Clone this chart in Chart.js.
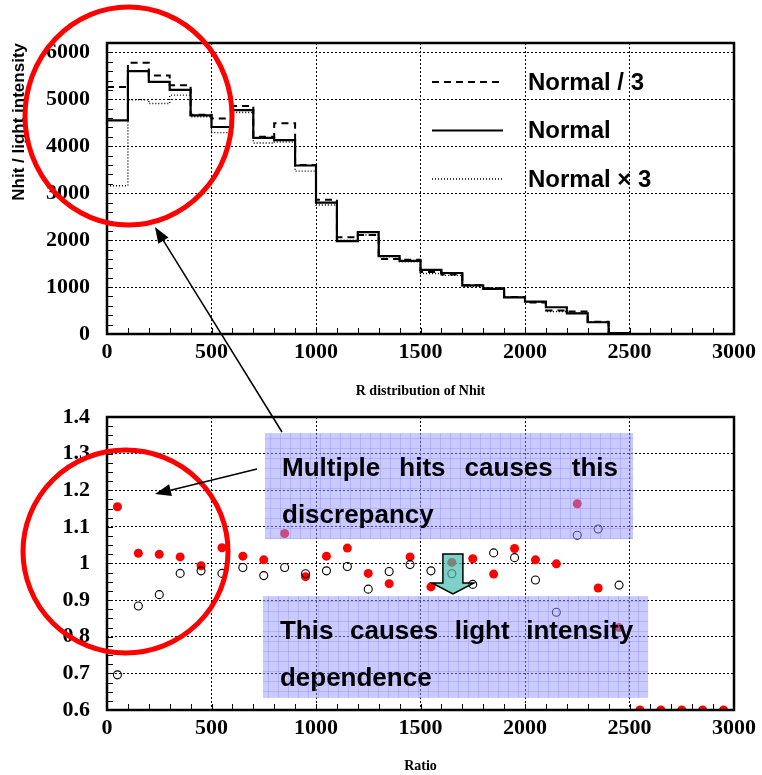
<!DOCTYPE html>
<html>
<head>
<meta charset="utf-8">
<script src="https://cdn.jsdelivr.net/npm/chart.js@4.4.0/dist/chart.umd.min.js"></script>
<style>
  html, body { margin: 0; padding: 0; background: #fff; }
  #wrap { position: relative; width: 762px; height: 775px; }
  #topChart { position: absolute; left: 0; top: 0; width: 762px; height: 400px; }
  #bottomChart { position: absolute; left: 0; top: 400px; width: 762px; height: 375px; }
  #overlay { position: absolute; left: 0; top: 0; pointer-events: none; }
</style>
</head>
<body>
<div id="wrap">
  <canvas id="topChart" width="762" height="400"></canvas>
  <canvas id="bottomChart" width="762" height="375"></canvas>
  <canvas id="overlay" width="762" height="775"></canvas>
</div>
<script>
// --- top: R distribution of Nhit (histogram, bin start edges) ---
const rBins = [0, 100, 200, 300, 400, 500, 600, 700, 800, 900, 1000, 1100, 1200, 1300, 1400, 1500,
               1600, 1700, 1800, 1900, 2000, 2100, 2200, 2300, 2400, 2500, 2600, 2700, 2800, 2900, 3000];
const normalDiv3 = [5260, 5780, 5510, 5300, 4670, 4590, 4860, 4200, 4490, 3600, 2860, 2060, 2110, 1600, 1580,
                    1320, 1270, 1040, 975, 790, 670, 500, 480, 260, 20, 0, 0, 0, 0, 0, 0];
const normal     = [4550, 5600, 5370, 5200, 4660, 4410, 4770, 4180, 4130, 3590, 2800, 1980, 2170, 1660, 1560,
                    1365, 1300, 1035, 960, 780, 690, 570, 440, 250, 20, 0, 0, 0, 0, 0, 0];
const normalX3   = [3160, 4990, 4910, 5090, 4630, 4290, 4720, 4070, 4090, 3470, 2750, 2000, 2110, 1650, 1540,
                    1290, 1250, 1010, 970, 790, 680, 480, 450, 260, 20, 0, 0, 0, 0, 0, 0];
const seriesNames = ['Normal / 3', 'Normal', 'Normal \u00d7 3'];
const xTicks = [0, 500, 1000, 1500, 2000, 2500, 3000];
const yTicksTop = [0, 1000, 2000, 3000, 4000, 5000, 6000];

// --- bottom: ratio per bin centre ---
const ratioR = [50, 150, 250, 350, 450, 550, 650, 750, 850, 950, 1050, 1150, 1250, 1350, 1450,
                1550, 1650, 1750, 1850, 1950, 2050, 2150, 2250, 2350, 2450, 2550, 2650, 2750, 2850, 2950];
const ratioFilled = [1.155, 1.028, 1.025, 1.018, 0.994, 1.043, 1.020, 1.010, 1.082, 0.964, 1.020, 1.042, 0.973, 0.945, 1.018,
                     0.936, 1.003, 1.013, 0.971, 1.041, 1.010, 0.999, 1.163, 0.933, 0.825, 0.6, 0.6, 0.6, 0.6, 0.6];
const ratioOpen   = [0.696, 0.884, 0.915, 0.973, 0.980, 0.973, 0.989, 0.967, 0.989, 0.972, 0.980, 0.992, 0.930, 0.978, 0.997,
                     0.980, 0.972, 0.943, 1.029, 1.016, 0.955, 0.867, 1.077, 1.094, 0.941, null, null, null, null, null];
const yTicksBottom = [0.6, 0.7, 0.8, 0.9, 1.0, 1.1, 1.2, 1.3, 1.4];

const serif = { family: 'Liberation Serif', size: 22, weight: 'bold' };
const sans = 'Liberation Sans';

function xyPoints(xs, ys) {
  return xs.map((x, i) => ({ x, y: ys[i] })).filter(p => p.y !== null);
}

function fixedTicks(list) {
  return scale => { scale.ticks = list.map(v => ({ value: v })); };
}

// fixed axis width; drop the label half-height padding so the plot box stays put
function yFit(scale) {
  scale.width = 107;
  scale.paddingTop = 0;
  scale.paddingBottom = 0;
}

// thick frame plus small inward ticks, ROOT style
function framePlugin(xStep, yStep) {
  return {
    id: 'frame',
    afterDraw(chart) {
      const { ctx, chartArea: a, scales } = chart;
      ctx.save();
      ctx.strokeStyle = '#000';
      ctx.lineWidth = 1;
      ctx.beginPath();
      for (let v = scales.x.min + xStep; v < scales.x.max - 1e-9; v += xStep) {
        const px = Math.round(scales.x.getPixelForValue(v)) + 0.5;
        ctx.moveTo(px, a.bottom);
        ctx.lineTo(px, a.bottom - 6);
      }
      for (let v = scales.y.min + yStep; v < scales.y.max - 1e-9; v += yStep) {
        const py = Math.round(scales.y.getPixelForValue(v)) + 0.5;
        ctx.moveTo(a.left, py);
        ctx.lineTo(a.left + 6, py);
      }
      ctx.stroke();
      ctx.lineWidth = 2.5;
      ctx.strokeRect(a.left, a.top, a.right - a.left, a.bottom - a.top);
      ctx.restore();
    }
  };
}

const legendPlugin = {
  id: 'insideLegend',
  afterDraw(chart) {
    const { ctx, chartArea: a } = chart;
    ctx.save();
    chart.data.datasets.forEach((ds, i) => {
      const y = a.top + 39 + i * 48.5;
      ctx.strokeStyle = ds.borderColor;
      ctx.lineWidth = ds.borderWidth;
      ctx.setLineDash(ds.borderDash || []);
      ctx.beginPath();
      ctx.moveTo(a.left + 325, y);
      ctx.lineTo(a.left + 396, y);
      ctx.stroke();
      ctx.setLineDash([]);
      ctx.fillStyle = '#000';
      ctx.font = 'bold 24px ' + sans;
      ctx.textBaseline = 'middle';
      ctx.fillText(ds.label, a.left + 421, y + 1);
    });
    ctx.restore();
  }
};

function axisX(title) {
  return {
    type: 'linear', min: 0, max: 3000,
    afterBuildTicks: fixedTicks(xTicks),
    ticks: { color: '#000', font: serif, padding: 5, maxRotation: 0, autoSkip: false, callback: v => String(v) },
    grid: { color: '#000', lineWidth: 1, drawTicks: false },
    border: { display: false, dash: [2, 2] },
    title: { display: true, text: title, color: '#000',
             font: { family: 'Liberation Serif', size: 14, weight: 'bold', lineHeight: 1 }, padding: { top: 0, bottom: 2 } }
  };
}

new Chart(document.getElementById('topChart'), {
  type: 'line',
  data: {
    datasets: [
      { label: seriesNames[0], data: xyPoints(rBins, normalDiv3), borderColor: '#000', borderWidth: 2, borderDash: [7, 5] },
      { label: seriesNames[1], data: xyPoints(rBins, normal), borderColor: '#000', borderWidth: 2.2 },
      { label: seriesNames[2], data: xyPoints(rBins, normalX3), borderColor: '#000', borderWidth: 1.4, borderDash: [1, 2] },
    ].map(ds => Object.assign(ds, { stepped: true, pointRadius: 0, fill: false, tension: 0, clip: 0 })),
  },
  options: {
    responsive: false,
    animation: false,
    layout: { padding: { top: 43, right: 28, left: 0, bottom: 0 } },
    plugins: { legend: { display: false }, tooltip: { enabled: false } },
    scales: {
      x: Object.assign(axisX('R distribution of Nhit'), { afterFit: s => { s.height = 66; } }),
      y: {
        min: 0, max: 6200,
        afterBuildTicks: fixedTicks(yTicksTop),
        afterFit: yFit,
        ticks: { color: '#000', font: serif, padding: 17, callback: v => String(v) },
        grid: { color: '#000', lineWidth: 1, drawTicks: false },
        border: { display: false, dash: [2, 2] },
        title: { display: true, text: 'Nhit / light intensity', align: 'end', color: '#000',
                 font: { family: sans, size: 17, weight: 'bold', lineHeight: 1.2 }, padding: { top: 9, bottom: 0 } }
      }
    }
  },
  plugins: [legendPlugin, framePlugin(100, 200)]
});

// text boxes and the down arrow on the ratio plot, placed in data units
const notes = [
  { from: [756, 1.356], to: [2517, 1.067], lines: ['Multiple hits causes this', 'discrepancy'] },
  { from: [746, 0.911], to: [2589, 0.633], lines: ['This causes light intensity', 'dependence'] },
];

const notesPlugin = {
  id: 'notes',
  afterDatasetsDraw(chart) {
    const { ctx, scales: { x, y } } = chart;
    ctx.save();
    notes.forEach(n => {
      const x0 = x.getPixelForValue(n.from[0]), y0 = y.getPixelForValue(n.from[1]);
      const x1 = x.getPixelForValue(n.to[0]), y1 = y.getPixelForValue(n.to[1]);
      ctx.save();
      ctx.fillStyle = 'rgba(150, 150, 255, 0.5)';
      ctx.fillRect(x0, y0, x1 - x0, y1 - y0);
      ctx.beginPath();
      ctx.rect(x0, y0, x1 - x0, y1 - y0);
      ctx.clip();
      ctx.strokeStyle = 'rgba(110, 110, 240, 0.25)';
      ctx.lineWidth = 1;
      ctx.beginPath();
      for (let gx = x0 + 5; gx < x1; gx += 10) { ctx.moveTo(Math.round(gx) + 0.5, y0); ctx.lineTo(Math.round(gx) + 0.5, y1); }
      for (let gy = y0 + 5; gy < y1; gy += 10) { ctx.moveTo(x0, Math.round(gy) + 0.5); ctx.lineTo(x1, Math.round(gy) + 0.5); }
      ctx.stroke();
      ctx.restore();

      ctx.fillStyle = '#000';
      ctx.font = 'bold 26px ' + sans;
      ctx.textBaseline = 'alphabetic';
      const left = x0 + 17, right = x1 - 15;
      // first line justified to the box width, second line left
      const words = n.lines[0].split(' ');
      const widths = words.map(w => ctx.measureText(w).width);
      const gap = (right - left - widths.reduce((s, w) => s + w, 0)) / (words.length - 1);
      let cx = left;
      words.forEach((w, i) => { ctx.fillText(w, cx, y0 + 43); cx += widths[i] + gap; });
      ctx.fillText(n.lines[1], left, y0 + 90);
    });

    // teal arrow pointing down at R = 1650
    const ax = x.getPixelForValue(1655);
    const top = y.getPixelForValue(1.026), tip = y.getPixelForValue(0.917);
    ctx.beginPath();
    ctx.moveTo(ax - 10, top);
    ctx.lineTo(ax + 10, top);
    ctx.lineTo(ax + 10, tip - 11);
    ctx.lineTo(ax + 21, tip - 11);
    ctx.lineTo(ax, tip);
    ctx.lineTo(ax - 21, tip - 11);
    ctx.lineTo(ax - 10, tip - 11);
    ctx.closePath();
    ctx.fillStyle = 'rgba(70, 190, 175, 0.7)';
    ctx.fill();
    ctx.strokeStyle = '#000';
    ctx.lineWidth = 1.5;
    ctx.stroke();
    ctx.restore();
  }
};

new Chart(document.getElementById('bottomChart'), {
  type: 'scatter',
  data: {
    datasets: [
      { data: xyPoints(ratioR, ratioOpen), pointRadius: 4, pointBorderWidth: 1.1,
        pointBorderColor: '#000', pointBackgroundColor: 'rgba(0,0,0,0)', clip: 0 },
      { data: xyPoints(ratioR, ratioFilled), pointRadius: 4.5, pointBorderWidth: 0,
        pointBorderColor: '#ff0000', pointBackgroundColor: '#ff0000', clip: 0 },
    ]
  },
  options: {
    responsive: false,
    animation: false,
    layout: { padding: { top: 17, right: 28, left: 0, bottom: 0 } },
    plugins: { legend: { display: false }, tooltip: { enabled: false } },
    scales: {
      x: Object.assign(axisX('Ratio'), { afterFit: s => { s.height = 65; } }),
      y: {
        min: 0.6, max: 1.4,
        afterBuildTicks: fixedTicks(yTicksBottom),
        afterFit: yFit,
        ticks: { color: '#000', font: serif, padding: 17, callback: v => String(Number(v.toFixed(1))) },
        grid: { color: '#000', lineWidth: 1, drawTicks: false },
        border: { display: false, dash: [2, 2] }
      }
    }
  },
  plugins: [notesPlugin, framePlugin(100, 0.025)]
});

// red rings and black arrows that span both plots
const ov = document.getElementById('overlay').getContext('2d');
ov.strokeStyle = '#ff0000';
ov.lineWidth = 5;
ov.beginPath(); ov.ellipse(128.5, 116, 103.5, 109, 0, 0, 2 * Math.PI); ov.stroke();
ov.beginPath(); ov.ellipse(125.5, 551.5, 102.5, 101.5, 0, 0, 2 * Math.PI); ov.stroke();

function arrow(x0, y0, x1, y1) {
  const ang = Math.atan2(y1 - y0, x1 - x0);
  const len = 16, half = 6;
  const bx = x1 - len * Math.cos(ang), by = y1 - len * Math.sin(ang);
  ov.strokeStyle = '#000';
  ov.lineWidth = 1.5;
  ov.beginPath(); ov.moveTo(x0, y0); ov.lineTo(bx, by); ov.stroke();
  ov.fillStyle = '#000';
  ov.beginPath();
  ov.moveTo(x1, y1);
  ov.lineTo(bx + half * Math.sin(ang), by - half * Math.cos(ang));
  ov.lineTo(bx - half * Math.sin(ang), by + half * Math.cos(ang));
  ov.closePath();
  ov.fill();
}
arrow(282, 432, 155, 227);
arrow(257, 469, 155, 494);
</script>
</body>
</html>
